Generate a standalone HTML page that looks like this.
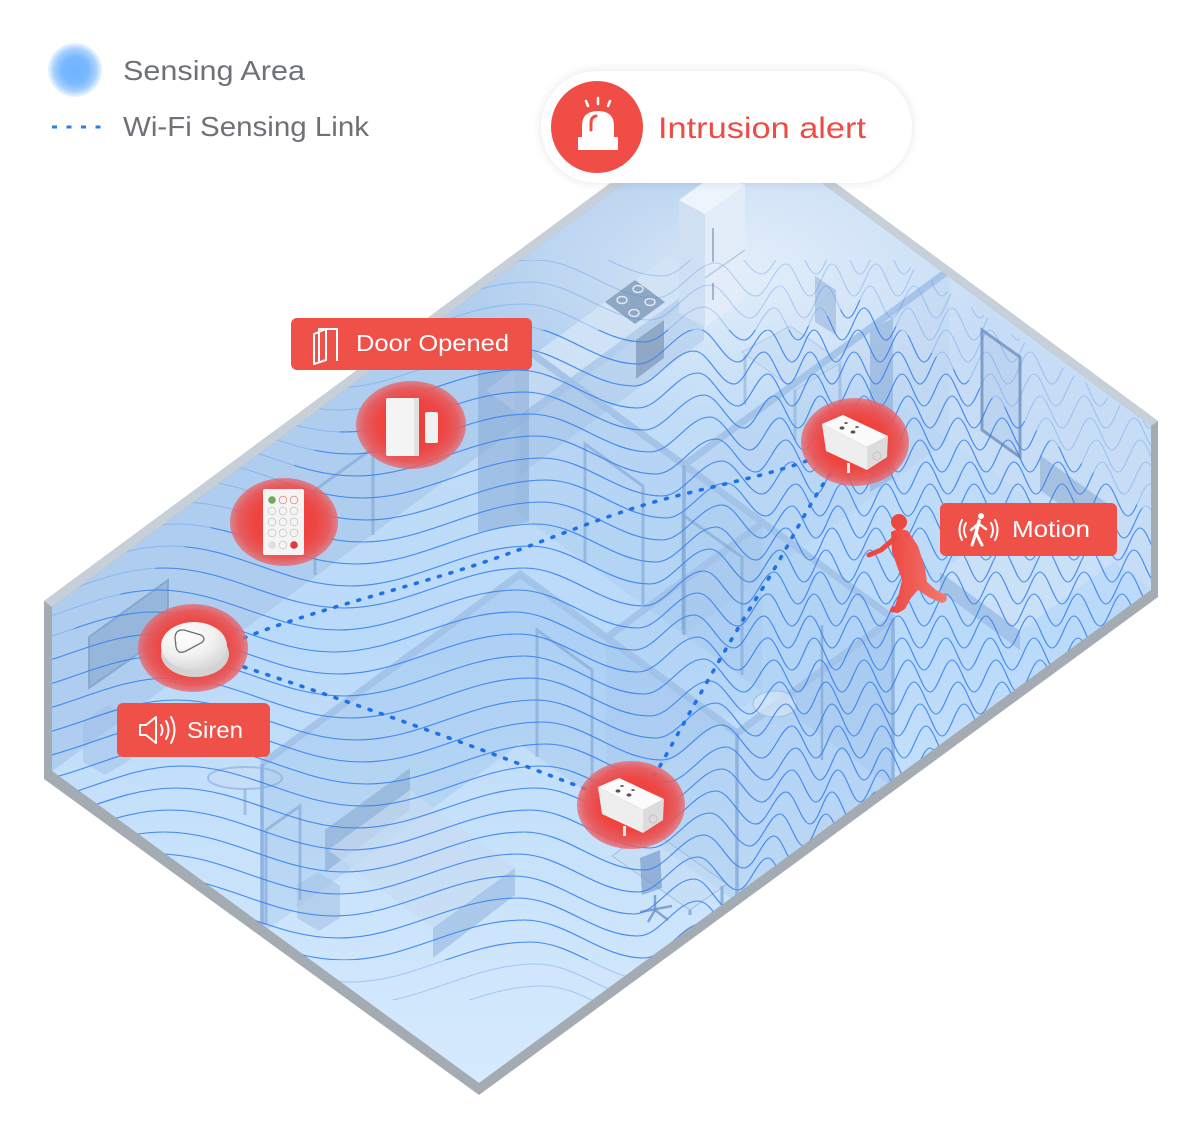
<!DOCTYPE html>
<html><head><meta charset="utf-8"><style>
html,body{margin:0;padding:0;background:#fff;}
svg{display:block;}
</style></head><body>
<svg width="1201" height="1139" viewBox="0 0 1201 1139" xmlns="http://www.w3.org/2000/svg" font-family="'Liberation Sans', sans-serif">
<defs>
  <clipPath id="inner"><polygon points="52,607 723,110 1151,426 1151,590 479,1083 52,771"/></clipPath>
  <clipPath id="faintClip"><polygon points="52,607 400,349 520,260 900,260 1151,426 1151,590 592,1000 365,1000 52,771"/></clipPath>
  <clipPath id="strongClip"><polygon points="52,645 477,330 800,330 860,300 1151,515 1151,590 647,960 310,960 52,771"/></clipPath>
  <linearGradient id="floorG" x1="0" y1="275" x2="0" y2="1083" gradientUnits="userSpaceOnUse">
    <stop offset="0" stop-color="#c6ddf5"/><stop offset="0.45" stop-color="#badafa"/><stop offset="1" stop-color="#d6eafd"/>
  </linearGradient>
  <radialGradient id="whiteG" cx="50%" cy="50%" r="50%">
    <stop offset="0" stop-color="#fff" stop-opacity="0.5"/><stop offset="1" stop-color="#fff" stop-opacity="0"/>
  </radialGradient>
  <radialGradient id="rg" cx="50%" cy="50%" r="50%">
    <stop offset="0" stop-color="#ef3b36"/>
    <stop offset="0.6" stop-color="#ee4642"/>
    <stop offset="0.85" stop-color="#ea5556" stop-opacity="0.93"/>
    <stop offset="1" stop-color="#e8676c" stop-opacity="0.75"/>
  </radialGradient>
  <radialGradient id="lg" cx="50%" cy="50%" r="50%">
    <stop offset="0" stop-color="#6fb2ff"/>
    <stop offset="0.5" stop-color="#7ab9ff"/>
    <stop offset="0.8" stop-color="#a9d2ff"/>
    <stop offset="1" stop-color="#dcedff" stop-opacity="0.6"/>
  </radialGradient>
  <radialGradient id="domeG" cx="38%" cy="30%" r="70%">
    <stop offset="0" stop-color="#ffffff"/><stop offset="0.6" stop-color="#f1f1f1"/><stop offset="1" stop-color="#d9d9d9"/>
  </radialGradient>
  <linearGradient id="personG" x1="0" y1="0" x2="1" y2="0">
    <stop offset="0" stop-color="#ec4841"/><stop offset="1" stop-color="#f27a71"/>
  </linearGradient>
  <filter id="blur" x="-20%" y="-40%" width="140%" height="180%"><feGaussianBlur stdDeviation="5"/></filter>
  <path id="w" d="M -10 20 C 55.5 20 104.5 -20 170 -20 C 235.5 -20 284.5 20 350 20 C 415.5 20 464.5 -20 530 -20 C 573.7 -20 606.3 18 650 18 C 671.8 18 688.2 -17 710 -17 C 724.6 -17 735.4 16 750 16 C 760.9 16 769.1 -16 780 -16 C 788.7 -16 795.3 16 804 16 S 818 -16 826 -16 S 840 16 848 16 S 862 -16 870 -16 S 884 16 892 16 S 906 -16 914 -16 S 928 16 936 16 S 950 -16 958 -16 S 972 16 980 16 S 994 -16 1002 -16 S 1016 16 1024 16 S 1038 -16 1046 -16 S 1060 16 1068 16 S 1082 -16 1090 -16 S 1104 16 1112 16 S 1126 -16 1134 -16 S 1148 16 1156 16 S 1170 -16 1178 -16 S 1192 16 1200 16"/>
  <g id="waves">
    <use href="#w" x="0" y="170"/><use href="#w" x="6" y="192"/><use href="#w" x="12" y="214"/><use href="#w" x="16" y="236"/>
    <use href="#w" x="12" y="258"/><use href="#w" x="6" y="280"/><use href="#w" x="0" y="302"/><use href="#w" x="-6" y="324"/>
    <use href="#w" x="-12" y="346"/><use href="#w" x="-16" y="368"/><use href="#w" x="-12" y="390"/><use href="#w" x="-6" y="412"/>
    <use href="#w" x="0" y="434"/><use href="#w" x="6" y="456"/><use href="#w" x="12" y="478"/><use href="#w" x="16" y="500"/>
    <use href="#w" x="12" y="522"/><use href="#w" x="6" y="544"/><use href="#w" x="0" y="566"/><use href="#w" x="-6" y="588"/>
    <use href="#w" x="-12" y="610"/><use href="#w" x="-16" y="632"/><use href="#w" x="-12" y="654"/><use href="#w" x="-6" y="676"/>
    <use href="#w" x="0" y="698"/><use href="#w" x="6" y="720"/><use href="#w" x="12" y="742"/><use href="#w" x="16" y="764"/>
    <use href="#w" x="12" y="786"/><use href="#w" x="6" y="808"/><use href="#w" x="0" y="830"/><use href="#w" x="-6" y="852"/>
    <use href="#w" x="-12" y="874"/><use href="#w" x="-16" y="896"/><use href="#w" x="-12" y="918"/><use href="#w" x="-6" y="940"/>
    <use href="#w" x="0" y="962"/><use href="#w" x="6" y="984"/><use href="#w" x="12" y="1006"/><use href="#w" x="16" y="1028"/>
    <use href="#w" x="12" y="1050"/><use href="#w" x="6" y="1072"/>
  </g>
</defs>

<!-- Legend -->
<circle cx="75" cy="70" r="27" fill="url(#lg)"/>
<text x="123" y="80" font-size="28" fill="#6e7177" textLength="182" lengthAdjust="spacingAndGlyphs">Sensing Area</text>
<line x1="52" y1="127" x2="101" y2="127" stroke="#2a7ff0" stroke-width="3" stroke-dasharray="5 9.5"/>
<text x="123" y="136" font-size="28" fill="#6e7177" textLength="246" lengthAdjust="spacingAndGlyphs">Wi-Fi Sensing Link</text>

<!-- House shell -->
<polygon points="44,601 723,100 1158,421 1158,597 479,1095 44,779" fill="#a4abb3"/>
<polygon points="44,601 723,100 1158,421 1151,426 723,110 52,607" fill="#c7cfd9"/>
<g clip-path="url(#inner)">
  <polygon points="723,275 1151,590 479,1083 52,771" fill="url(#floorG)"/>
  <polygon points="52,607 723,110 723,275 52,771" fill="#afcdee"/>
  <polygon points="723,110 1151,426 1151,590 723,275" fill="#c7ddf5"/>
  <ellipse cx="730" cy="270" rx="280" ry="150" fill="url(#whiteG)"/>

  <!-- living room -->
  <polygon points="89,637 168,580 168,633 89,688" fill="#7f9fc8" fill-opacity="0.5" stroke="#7b9cc6" stroke-opacity="0.7" stroke-width="2"/>
  <polygon points="83,722 108,705 130,718 130,760 105,775 83,762" fill="#9dbde4" fill-opacity="0.45"/>
  <path d="M 315 575 V 490 L 373 448 V 535" fill="none" stroke="#7fa5d4" stroke-opacity="0.6" stroke-width="3"/>
  <ellipse cx="245" cy="778" rx="37" ry="11" fill="#c7dcf3" fill-opacity="0.5" stroke="#87aad6" stroke-opacity="0.6" stroke-width="2"/>
  <line x1="245" y1="789" x2="245" y2="815" stroke="#87aad6" stroke-width="3" stroke-opacity="0.6"/>

  <!-- kitchen -->
  <polygon points="669,255 486,390 520,415 704,280" fill="#d3e4f6" opacity="0.85"/>
  <polygon points="704,280 520,415 520,475 704,340" fill="#a9c6e8" opacity="0.5"/>
  <polygon points="605,302 635,280 665,302 635,324" fill="#8ea7c4"/>
  <g fill="none" stroke="#dde8f4" stroke-width="1.5">
    <ellipse cx="622" cy="300" rx="5" ry="3.5"/><ellipse cx="638" cy="289" rx="5" ry="3.5"/>
    <ellipse cx="634" cy="313" rx="5" ry="3.5"/><ellipse cx="650" cy="302" rx="5" ry="3.5"/>
  </g>
  <polygon points="636,340 664,320 664,358 636,379" fill="#8fa8c6"/>
  <polygon points="679,200 705,214 705,327 679,313" fill="#cfe0f2"/>
  <polygon points="705,214 745,185 745,298 705,327" fill="#e2edf9"/>
  <polygon points="679,200 718,172 745,185 705,214" fill="#eef4fb"/>
  <line x1="713" y1="228" x2="713" y2="262" stroke="#9fb6d0" stroke-width="2"/>
  <line x1="713" y1="283" x2="713" y2="300" stroke="#9fb6d0" stroke-width="2"/>
  <line x1="705" y1="278" x2="745" y2="250" stroke="#b8cbe0" stroke-width="1.5"/>

  <!-- dining -->
  <polygon points="815,276 836,290 836,335 815,322" fill="#8fb0d8" fill-opacity="0.55"/>
  <polygon points="742,352 790,326 842,362 795,390" fill="#c4dbf3" fill-opacity="0.55" stroke="#9dbde3" stroke-opacity="0.6"/>
  <g stroke="#8fb0d8" stroke-width="3" stroke-opacity="0.6">
    <line x1="745" y1="355" x2="745" y2="405"/><line x1="795" y1="390" x2="795" y2="440"/><line x1="840" y1="364" x2="840" y2="410"/>
  </g>

  <!-- interior walls -->
  <g fill="#7ea9dc">
    <polygon points="515,341 893,618 893,788 515,511" fill-opacity="0.14"/>
    <polygon points="949,270 684,465 684,635 949,440" fill-opacity="0.08"/>
    <polygon points="520,574 737,733 737,903 520,744" fill-opacity="0.2"/>
    <polygon points="520,574 262,764 262,934 520,744" fill-opacity="0.2"/>
    <polygon points="893,618 737,733 737,903 893,788" fill-opacity="0.18"/>
    <polygon points="762,523 606,638 606,808 762,693" fill-opacity="0.1"/>
  </g>
  <polygon points="478,370 529,355 529,522 478,532" fill="#86aad6" fill-opacity="0.55"/>
  <polygon points="870,330 893,318 893,478 870,492" fill="#86aad6" fill-opacity="0.55"/>
  <g fill="none" stroke="#a2c1e7" stroke-width="7" stroke-opacity="0.9">
    <line x1="515" y1="341" x2="893" y2="618"/>
    <line x1="949" y1="270" x2="684" y2="465"/>
    <polyline points="262,764 520,574 737,733"/>
    <line x1="893" y1="618" x2="737" y2="733"/>
    <line x1="762" y1="523" x2="606" y2="638"/>
  </g>
  <g stroke="#8fb3df" stroke-width="3.5">
    <line x1="262" y1="764" x2="262" y2="934"/>
    <line x1="737" y1="733" x2="737" y2="903"/>
    <line x1="893" y1="618" x2="893" y2="788"/>
    <line x1="684" y1="465" x2="684" y2="635"/>
  </g>
  <g fill="none" stroke="#7fa5d4" stroke-opacity="0.6" stroke-width="3">
    <path d="M 585 562 V 444 L 643 486 V 605"/>
    <path d="M 683 630 V 515 L 742 557 V 675"/>
    <path d="M 537 757 V 630 L 592 670 V 797"/>
  </g>

  <!-- right bedroom -->
  <polygon points="982,330 1020,357 1020,457 982,430" fill="#9dbde3" fill-opacity="0.25" stroke="#7f9fc8" stroke-width="3"/>
  <polygon points="1040,455 1112,507 1112,542 1040,490" fill="#7f9fc8" fill-opacity="0.45"/>
  <polygon points="940,572 1020,631 1115,561 1035,502" fill="#d0e3f7" fill-opacity="0.7"/>
  <polygon points="940,572 1020,631 1020,650 940,591" fill="#8fb0d8" fill-opacity="0.55"/>

  <!-- bathroom -->
  <ellipse cx="775" cy="704" rx="22" ry="13" fill="#d5e6f7" fill-opacity="0.7" stroke="#9dbde3"/>
  <line x1="822" y1="625" x2="822" y2="760" stroke="#8fb0d8" stroke-width="2.5"/>

  <!-- front-left bedroom -->
  <polygon points="325,830 410,768 410,810 325,872" fill="#7f9fc8" fill-opacity="0.5"/>
  <polygon points="328,850 410,790 515,868 433,928" fill="#c8dcf2" fill-opacity="0.7"/>
  <polygon points="433,928 515,868 515,895 433,958" fill="#9dbde3" fill-opacity="0.7"/>
  <polygon points="297,885 318,872 340,886 340,918 319,931 297,918" fill="#a5c3e6" fill-opacity="0.6"/>
  <path d="M 266 925 V 830 L 300 806 V 900" fill="none" stroke="#7fa5d4" stroke-opacity="0.6" stroke-width="3"/>
  <polygon points="612,856 650,829 727,884 690,910" fill="#c4dbf3" fill-opacity="0.55" stroke="#8fb0d8" stroke-opacity="0.7"/>
  <line x1="690" y1="910" x2="690" y2="915" stroke="#8fb0d8" stroke-width="3"/>
  <line x1="722" y1="886" x2="722" y2="905" stroke="#8fb0d8" stroke-width="3"/>
  <polygon points="640,858 660,850 662,888 642,895" fill="#6f93c4" fill-opacity="0.6"/>
  <g stroke="#6f93c4" stroke-width="2.5" stroke-opacity="0.8">
    <line x1="655" y1="895" x2="655" y2="910"/><line x1="640" y1="912" x2="672" y2="906"/><line x1="655" y1="910" x2="648" y2="922"/><line x1="655" y1="910" x2="668" y2="920"/>
  </g>
</g>

<!-- waves: faint layer + strong layer -->
<g clip-path="url(#faintClip)">
  <g fill="none" stroke="#3b84ee" stroke-width="1.1" stroke-opacity="0.3">
    <use href="#waves"/>
  </g>
</g>
<g clip-path="url(#strongClip)">
  <g fill="none" stroke="#3b84ee" stroke-width="1.1" stroke-opacity="0.9">
    <use href="#waves"/>
  </g>
</g>

<!-- Wi-Fi sensing links -->
<g fill="none" stroke="#1f71e8" stroke-width="3.6" stroke-linecap="round" stroke-dasharray="2 10">
  <path d="M 244 638 C 300 615, 380 595, 460 570 C 540 545, 600 515, 680 495 C 740 480, 790 470, 828 452"/>
  <path d="M 244 667 Q 420 725 588 790"/>
  <path d="M 830 474 C 805 510, 790 545, 759 594 S 680 730, 655 775"/>
</g>

<!-- sensing circles -->
<ellipse cx="411" cy="425" rx="55" ry="44" fill="url(#rg)"/>
<ellipse cx="284" cy="522" rx="54" ry="44" fill="url(#rg)"/>
<ellipse cx="193" cy="648" rx="55" ry="44" fill="url(#rg)"/>
<ellipse cx="855" cy="442" rx="54" ry="44" fill="url(#rg)"/>
<ellipse cx="631" cy="805" rx="54" ry="44" fill="url(#rg)"/>

<!-- door sensor -->
<rect x="386" y="398" width="33" height="58" rx="2" fill="#f4f4f4"/>
<rect x="414" y="398" width="5" height="58" fill="#e1e1e1"/>
<rect x="425" y="412" width="13" height="31" rx="2" fill="#f1f1f1"/>

<!-- keypad -->
<rect x="263" y="489" width="41" height="66" rx="2" fill="#f4f4f4"/>
<g fill="none" stroke="#c9c9c9" stroke-width="0.8">
  <circle cx="283" cy="511" r="3.8"/><circle cx="294" cy="511" r="3.8"/><circle cx="272" cy="511" r="3.8"/>
  <circle cx="283" cy="522" r="3.8"/><circle cx="294" cy="522" r="3.8"/><circle cx="272" cy="522" r="3.8"/>
  <circle cx="283" cy="533" r="3.8"/><circle cx="294" cy="533" r="3.8"/><circle cx="272" cy="533" r="3.8"/>
  <circle cx="283" cy="545" r="3.8"/>
  <circle cx="283" cy="500" r="3.8" stroke="#e08a8a"/><circle cx="294" cy="500" r="3.8" stroke="#e08a8a"/>
</g>
<circle cx="272" cy="500" r="3.8" fill="#6aab5a"/>
<circle cx="272" cy="545" r="3.8" fill="#dedede"/>
<circle cx="294" cy="545" r="3.8" fill="#e23a3a"/>

<!-- siren device -->
<ellipse cx="195" cy="654" rx="34" ry="23" fill="#d3d3d3"/>
<ellipse cx="194" cy="646" rx="33" ry="24" fill="url(#domeG)"/>
<path d="M 175 637 Q 176 629 184 630 L 201 635 Q 207 639 201 643 L 186 651 Q 178 655 176 647 Z" fill="none" stroke="#6d6d6d" stroke-width="1.3"/>

<!-- plug 1 -->
<g>
  <polygon points="822,424 843,415 888,436 867,447" fill="#fbfbfb"/>
  <polygon points="822,424 867,447 867,470 826,451" fill="#eeeeee"/>
  <polygon points="867,447 888,436 887,457 867,470" fill="#dcdcdc"/>
  <ellipse cx="842" cy="428" rx="2.5" ry="1.6" fill="#555"/>
  <ellipse cx="853" cy="432" rx="2.5" ry="1.6" fill="#555"/>
  <ellipse cx="846" cy="423" rx="1.8" ry="1" fill="#666"/>
  <ellipse cx="857" cy="427" rx="1.8" ry="1" fill="#666"/>
  <circle cx="877" cy="456" r="4" fill="none" stroke="#c4c4c4"/>
  <rect x="847" y="463" width="3" height="10" fill="#e8e8e8"/>
</g>
<!-- plug 2 -->
<g transform="translate(-224,363)">
  <polygon points="822,424 843,415 888,436 867,447" fill="#fbfbfb"/>
  <polygon points="822,424 867,447 867,470 826,451" fill="#eeeeee"/>
  <polygon points="867,447 888,436 887,457 867,470" fill="#dcdcdc"/>
  <ellipse cx="842" cy="428" rx="2.5" ry="1.6" fill="#555"/>
  <ellipse cx="853" cy="432" rx="2.5" ry="1.6" fill="#555"/>
  <ellipse cx="846" cy="423" rx="1.8" ry="1" fill="#666"/>
  <ellipse cx="857" cy="427" rx="1.8" ry="1" fill="#666"/>
  <circle cx="877" cy="456" r="4" fill="none" stroke="#c4c4c4"/>
  <rect x="847" y="463" width="3" height="10" fill="#e8e8e8"/>
</g>

<!-- person -->
<g fill="url(#personG)">
  <circle cx="899" cy="522" r="8" fill="#ec4841"/>
  <path d="M 891 532 Q 899 527 908 531 L 918 546 L 925 568 L 927 582 L 936 590 L 946 595 Q 949 601 942 603 L 930 598 L 918 590 L 911 598 L 905 609 L 898 613 L 890 612 Q 889 607 895 606 L 899 593 L 902 580 L 897 566 L 892 552 Z"/>
  <path d="M 895 538 L 881 550 L 869 555" fill="none" stroke="#ec4841" stroke-width="5" stroke-linecap="round" stroke-linejoin="round"/>
  <path d="M 903 545 L 896 556 L 899 564" fill="none" stroke="#ee5048" stroke-width="4.5" stroke-linecap="round" stroke-linejoin="round"/>
</g>

<!-- Labels -->
<rect x="291" y="318" width="241" height="52" rx="6" fill="#ef5048"/>
<path d="M 319 361 V 329 H 337 V 361" fill="none" stroke="#fff" stroke-width="2"/>
<polygon points="314,334 326,329 326,360 314,364" fill="none" stroke="#fff" stroke-width="2" stroke-linejoin="round"/>
<text x="356" y="351" font-size="23" fill="#fff" textLength="153" lengthAdjust="spacingAndGlyphs">Door Opened</text>

<rect x="117" y="703" width="153" height="54" rx="6" fill="#ef5048"/>
<g fill="none" stroke="#fff" stroke-width="2" stroke-linecap="round" stroke-linejoin="round">
  <path d="M 140 725 H 146 L 156 717 V 743 L 146 735 H 140 Z"/>
  <path d="M 161 725 Q 164 730 161 735"/>
  <path d="M 166 721 Q 171 730 166 739"/>
  <path d="M 171 717 Q 178 730 171 743"/>
</g>
<text x="187" y="738" font-size="23" fill="#fff" textLength="56" lengthAdjust="spacingAndGlyphs">Siren</text>

<rect x="940" y="503" width="177" height="53" rx="6" fill="#ef5048"/>
<g fill="none" stroke="#fff" stroke-linecap="round" stroke-linejoin="round">
  <circle cx="981" cy="516" r="3" fill="#fff" stroke="none"/>
  <path d="M 979 521 L 976 533" stroke-width="3.5"/>
  <path d="M 978 524 L 971 530" stroke-width="2.5"/>
  <path d="M 979 524 L 986 529" stroke-width="2.5"/>
  <path d="M 976 533 L 972 545" stroke-width="3"/>
  <path d="M 976 533 L 982 545" stroke-width="3"/>
  <path d="M 966 523 Q 962 530 966 537" stroke-width="2"/>
  <path d="M 962 520 Q 957 530 962 540" stroke-width="2"/>
  <path d="M 991 523 Q 995 530 991 537" stroke-width="2"/>
  <path d="M 995 520 Q 1000 530 995 540" stroke-width="2"/>
</g>
<text x="1012" y="537" font-size="23" fill="#fff" textLength="78" lengthAdjust="spacingAndGlyphs">Motion</text>

<!-- Intrusion alert pill -->
<rect x="541" y="71" width="371" height="112" rx="56" fill="#000" opacity="0.1" filter="url(#blur)"/>
<rect x="541" y="71" width="371" height="112" rx="56" fill="#fff"/>
<circle cx="597" cy="127" r="46" fill="#ef4d46"/>
<path d="M 582 138 V 126 Q 582 111 598 111 Q 614 111 614 126 V 138 Z" fill="#fff"/>
<rect x="578" y="137" width="40" height="13" rx="1" fill="#fff"/>
<path d="M 591 130 V 123 Q 591 117 596 116" fill="none" stroke="#ef4d46" stroke-width="3" stroke-linecap="round"/>
<g stroke="#fff" stroke-width="2.5" stroke-linecap="round">
  <line x1="586" y1="101" x2="588" y2="106"/>
  <line x1="598" y1="98" x2="598" y2="104"/>
  <line x1="610" y1="101" x2="608" y2="106"/>
</g>
<text x="658" y="138" font-size="29.5" fill="#ef4a43" textLength="208" lengthAdjust="spacingAndGlyphs">Intrusion alert</text>
</svg>
</body></html>
